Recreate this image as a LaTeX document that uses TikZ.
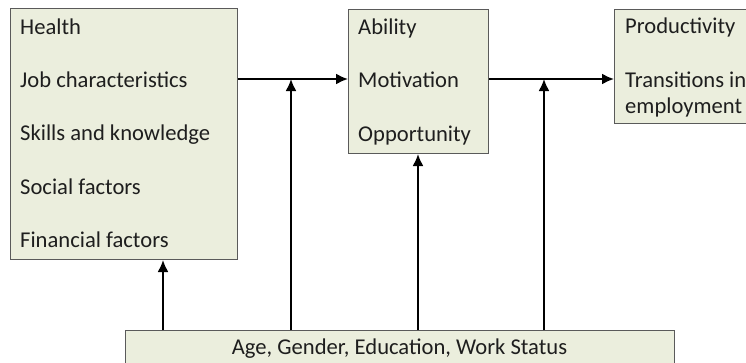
\documentclass[tikz,border=0pt]{standalone}
\usepackage{fontspec}
\setmainfont{Carlito}
\usetikzlibrary{arrows.meta}
\definecolor{boxfill}{HTML}{EBEEDD}
\definecolor{boxline}{HTML}{5A5A5A}
\definecolor{txt}{HTML}{1E1E1E}
\tikzset{
  factorbox/.style={draw=boxline, fill=boxfill, line width=1pt, rectangle, inner sep=0pt, anchor=north west},
  item/.style={anchor=base west, inner sep=0pt, text=txt, font=\fontsize{22.6}{27}\selectfont},
  link/.style={line width=2pt, -{Latex[length=12pt,width=11pt]}},
}

\begin{document}
\begin{tikzpicture}[x=1pt, y=-1pt]
\clip (0,0) rectangle (746,362);
\fill[white] (0,0) rectangle (746,362);
% boxes
\node[factorbox, minimum width=227pt, minimum height=251pt] (lbox) at (10,8) {};
\node[factorbox, minimum width=140pt, minimum height=144pt] (mbox) at (348,9) {};
\node[factorbox, minimum width=150pt, minimum height=114pt] (rbox) at (614,9) {};
\node[factorbox, minimum width=549pt, minimum height=60pt] (bot) at (125,330) {};
% texts
\node[item] (health) at (20,34) {Health};
\node[item] (job) at (20,87) {Job characteristics};
\node[item] (skills) at (20,140) {Skills and knowledge};
\node[item] (social) at (20,194) {Social factors};
\node[item] (financial) at (20,247) {Financial factors};
\node[item] (ability) at (358,34) {Ability};
\node[item] (motivation) at (358,87) {Motivation};
\node[item] (opportunity) at (358,141) {Opportunity};
\node[item] (productivity) at (625,33) {Productivity};
\node[item] (transitions) at (625,87) {Transitions in};
\node[item] (employment) at (625,113) {employment};
\node[item, anchor=base] (personal) at (399.5,354) {Age, Gender, Education, Work Status};
% junctions
\coordinate (j1) at (291,79);
\coordinate (j2) at (544,79);
\coordinate (f1) at (163,0);
\coordinate (f2) at (418,0);
% connectors
\draw[link] (lbox.east |- j1) -- (mbox.west |- j1);
\draw[link] (mbox.east |- j2) -- (rbox.west |- j2);
\draw[link] (bot.north -| f1) -- (lbox.south -| f1);
\draw[link] (bot.north -| j1) -- (j1);
\draw[link] (bot.north -| f2) -- (mbox.south -| f2);
\draw[link] (bot.north -| j2) -- (j2);
\end{tikzpicture}
\end{document}
